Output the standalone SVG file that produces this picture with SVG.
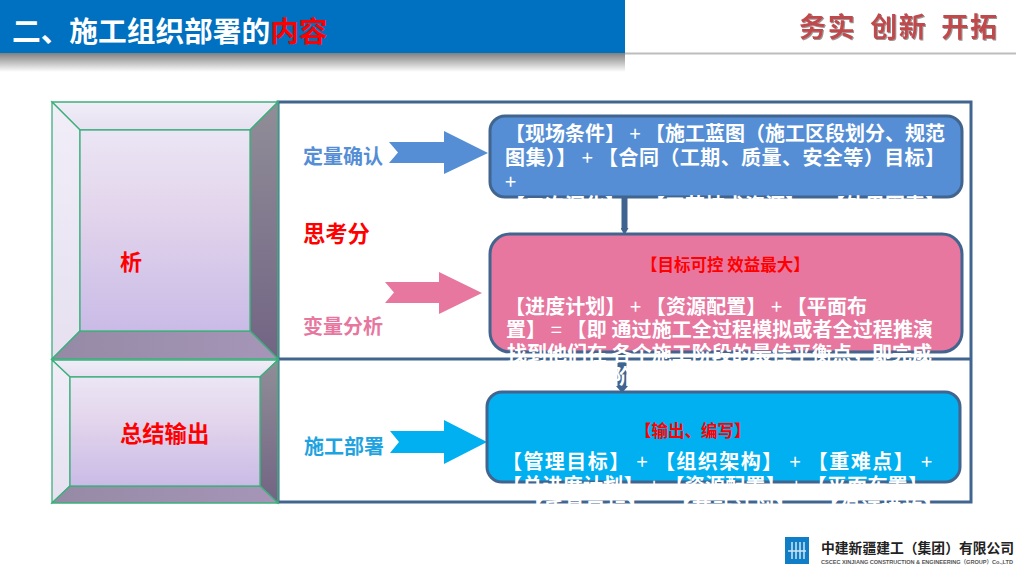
<svg xmlns="http://www.w3.org/2000/svg" width="1024" height="576" viewBox="0 0 1024 576">
<style>
text{font-family:"Liberation Sans","Noto Sans CJK SC",sans-serif;font-weight:700}
.cn{font-family:"Noto Sans CJK SC","Liberation Sans",sans-serif;font-weight:700}
.b{font-size:20px;fill:#fff}
.p{font-weight:400}
.r{fill:#f00}
.box{stroke:#41658f;stroke-width:3}
.bv{stroke:#3cb07c;stroke-width:1.3}
.conn{stroke:#3f648f;fill:none}
</style>
<defs>
<linearGradient id="sh" x1="0" y1="0" x2="0" y2="1"><stop offset="0" stop-color="#808080"/><stop offset="1" stop-color="#fff"/></linearGradient>
<linearGradient id="face" x1="0" y1="0" x2="0" y2="1"><stop offset="0" stop-color="#ebe6f5"/><stop offset=".4" stop-color="#e3d5ec"/><stop offset="1" stop-color="#c9bbe6"/></linearGradient>
<linearGradient id="lt" x1="0" y1="0" x2="0" y2="1"><stop offset="0" stop-color="#f1eef8"/><stop offset="1" stop-color="#e6e0f0"/></linearGradient>
<linearGradient id="rs" x1="0" y1="0" x2="0" y2="1"><stop offset="0" stop-color="#908e98"/><stop offset="1" stop-color="#726484"/></linearGradient>
<linearGradient id="bs" x1="0" y1="0" x2="1" y2="0"><stop offset="0" stop-color="#958aa5"/><stop offset="1" stop-color="#a695b8"/></linearGradient>
<filter id="ds" x="-5%" y="-10%" width="110%" height="125%"><feDropShadow dx="1" dy="1" stdDeviation=".6" flood-color="#999"/></filter>
<marker id="ah" markerUnits="userSpaceOnUse" markerWidth="12" markerHeight="8" refX="0" refY="4" orient="auto"><path d="M0 0L7 4L0 8z" fill="#3f648f"/></marker>
<marker id="ah2" markerUnits="userSpaceOnUse" markerWidth="14" markerHeight="14" refX="0" refY="7" orient="auto"><path d="M0 1L7 7L0 13z" fill="#3f648f"/></marker>
</defs>
<g id="header">
<rect x="0" y="53" width="625" height="19" fill="url(#sh)"/>
<rect x="625" y="52.500" width="391" height="2" fill="#bdbdbd"/>
<rect x="0" y="0" width="625" height="53" fill="#0070c0"/>
<text x="12" y="42" class="cn" font-size="28.700" fill="#fff">二、施工组织部署的<tspan fill="#f00">内容</tspan></text>
<text x="799" y="37" class="cn" font-size="27" fill="#c0484c" filter="url(#ds)" word-spacing="6" textLength="198">务实 创新 开拓</text>
</g>
<g id="frame">
<rect x="278" y="102" width="693" height="400" fill="#fff" stroke="#41658f" stroke-width="3"/>
<line x1="278" y1="359" x2="971" y2="359" stroke="#41658f" stroke-width="3"/>
</g>
<g id="bevel-analysis">
<path d="M52 102H278L250 130H80z" fill="url(#lt)" class="bv"/>
<path d="M52 102L80 130V331L52 359z" fill="url(#lt)" class="bv"/>
<path d="M278 102L250 130V331L278 359z" fill="url(#rs)" class="bv"/>
<path d="M52 359L80 331H250L278 359z" fill="url(#bs)" class="bv"/>
<rect x="80" y="130" width="170" height="201" fill="url(#face)" class="bv"/>
<text x="120" y="270" class="cn r" font-size="22">析</text>
</g>
<g id="bevel-output">
<path d="M52 360H278L260 377H70z" fill="url(#lt)" class="bv"/>
<path d="M52 360L70 377V486L52 503z" fill="url(#lt)" class="bv"/>
<path d="M278 360L260 377V486L278 503z" fill="url(#rs)" class="bv"/>
<path d="M52 503L70 486H260L278 503z" fill="url(#bs)" class="bv"/>
<rect x="70" y="377" width="190" height="109" fill="url(#face)" class="bv"/>
<text x="120" y="442" class="cn r" font-size="22.300">总结输出</text>
</g>
<g id="connectors">
<line x1="624.500" y1="194" x2="624.500" y2="228" class="conn" stroke-width="6" marker-end="url(#ah)"/>
<line x1="622" y1="352" x2="622" y2="386" class="conn" stroke-width="9" marker-end="url(#ah2)"/>
</g>
<g id="arrow-quant"><path d="M389 142H444V131L488 153L444 174V163H389L398 152.500z" fill="#558ed5"/><text x="303" y="164" class="cn" fill="#558ed5" font-size="20">定量确认</text></g>
<g id="arrow-var"><path d="M385 282H439V272L482 293L439 314V303H385L394 292.500z" fill="#e7779f"/><text x="303" y="334" class="cn" fill="#e7779f" font-size="20">变量分析</text></g>
<g id="arrow-deploy"><path d="M390 431H444V420L487 442L444 464V453H390L399 442z" fill="#00b0f0"/><text x="304" y="454" class="cn" fill="#1fa3e0" font-size="20">施工部署</text></g>
<text id="think" x="303" y="242" class="cn r" font-size="22.300">思考分</text>
<g id="box-quant">
<rect x="490" y="116" width="472" height="81" rx="15" fill="#558ed5" class="box"/>
<text x="505" y="141" class="cn b" textLength="440">【现场条件】<tspan class="p"> + </tspan>【施工蓝图（施工区段划分、规范</text>
<text x="505" y="165" class="cn b" textLength="440">图集）】<tspan class="p"> + </tspan>【合同（工期、质量、安全等）目标】</text>
<text x="505" y="189" class="cn b p">+</text>
<text x="505" y="213" class="cn b" textLength="440">【二次深化】<tspan class="p"> + </tspan>【工艺技术资源】<tspan class="p"> + </tspan>【外界因素】</text>
<text x="505" y="237" class="cn b">等</text>
</g>
<g id="box-var">
<rect x="490" y="234" width="472" height="118" rx="20" fill="#e7779f" class="box"/>
<text x="641" y="271" class="cn r" font-size="16.500">【目标可控  效益最大】</text>
<text x="505" y="314" class="cn b" textLength="362">【进度计划】<tspan class="p"> + </tspan>【资源配置】<tspan class="p"> + </tspan>【平面布</text>
<text x="506" y="337" class="cn b" textLength="427">置】<tspan class="p"> = </tspan>【即 通过施工全过程模拟或者全过程推演</text>
<text x="507" y="361" class="cn b" textLength="425">找到他们在 各个施工阶段的最佳平衡点，即完成</text>
<text x="612" y="384" class="cn b">阶</text>
</g>
<g id="box-deploy">
<rect x="487" y="392" width="473" height="90" rx="15" fill="#00b0f0" class="box"/>
<text x="635" y="437" class="cn r" font-size="16.500">【输出、编写】</text>
<text x="502" y="469" class="cn b" textLength="430">【管理目标】<tspan class="p"> + </tspan>【组织架构】<tspan class="p"> + </tspan>【重难点】<tspan class="p"> + </tspan></text>
<text x="502" y="493" class="cn b" textLength="426">【总进度计划】<tspan class="p"> + </tspan>【资源配置】<tspan class="p"> + </tspan>【平面布置】</text>
<text x="523" y="517" class="cn b" textLength="420">【质量目标】<tspan class="p"> + </tspan>【劳动计划】<tspan class="p"> + </tspan>【保证措施】</text>
</g>
<g id="footer">
<rect x="785" y="537" width="24" height="27" fill="#0f7ec6"/>
<path d="M792 542v17M796 542v17M800 542v17M804 542v17M788 551h18" stroke="#cfe6f5" stroke-width="1.500" fill="none"/>
<text x="821" y="553" class="cn" font-size="13.800" fill="#222">中建新疆建工（集团）有限公司</text>
<text x="821" y="564" font-size="5.600" fill="#555" textLength="192">CSCEC XINJIANG CONSTRUCTION &amp; ENGINEERING（GROUP）Co.,LTD</text>
</g>
</svg>
